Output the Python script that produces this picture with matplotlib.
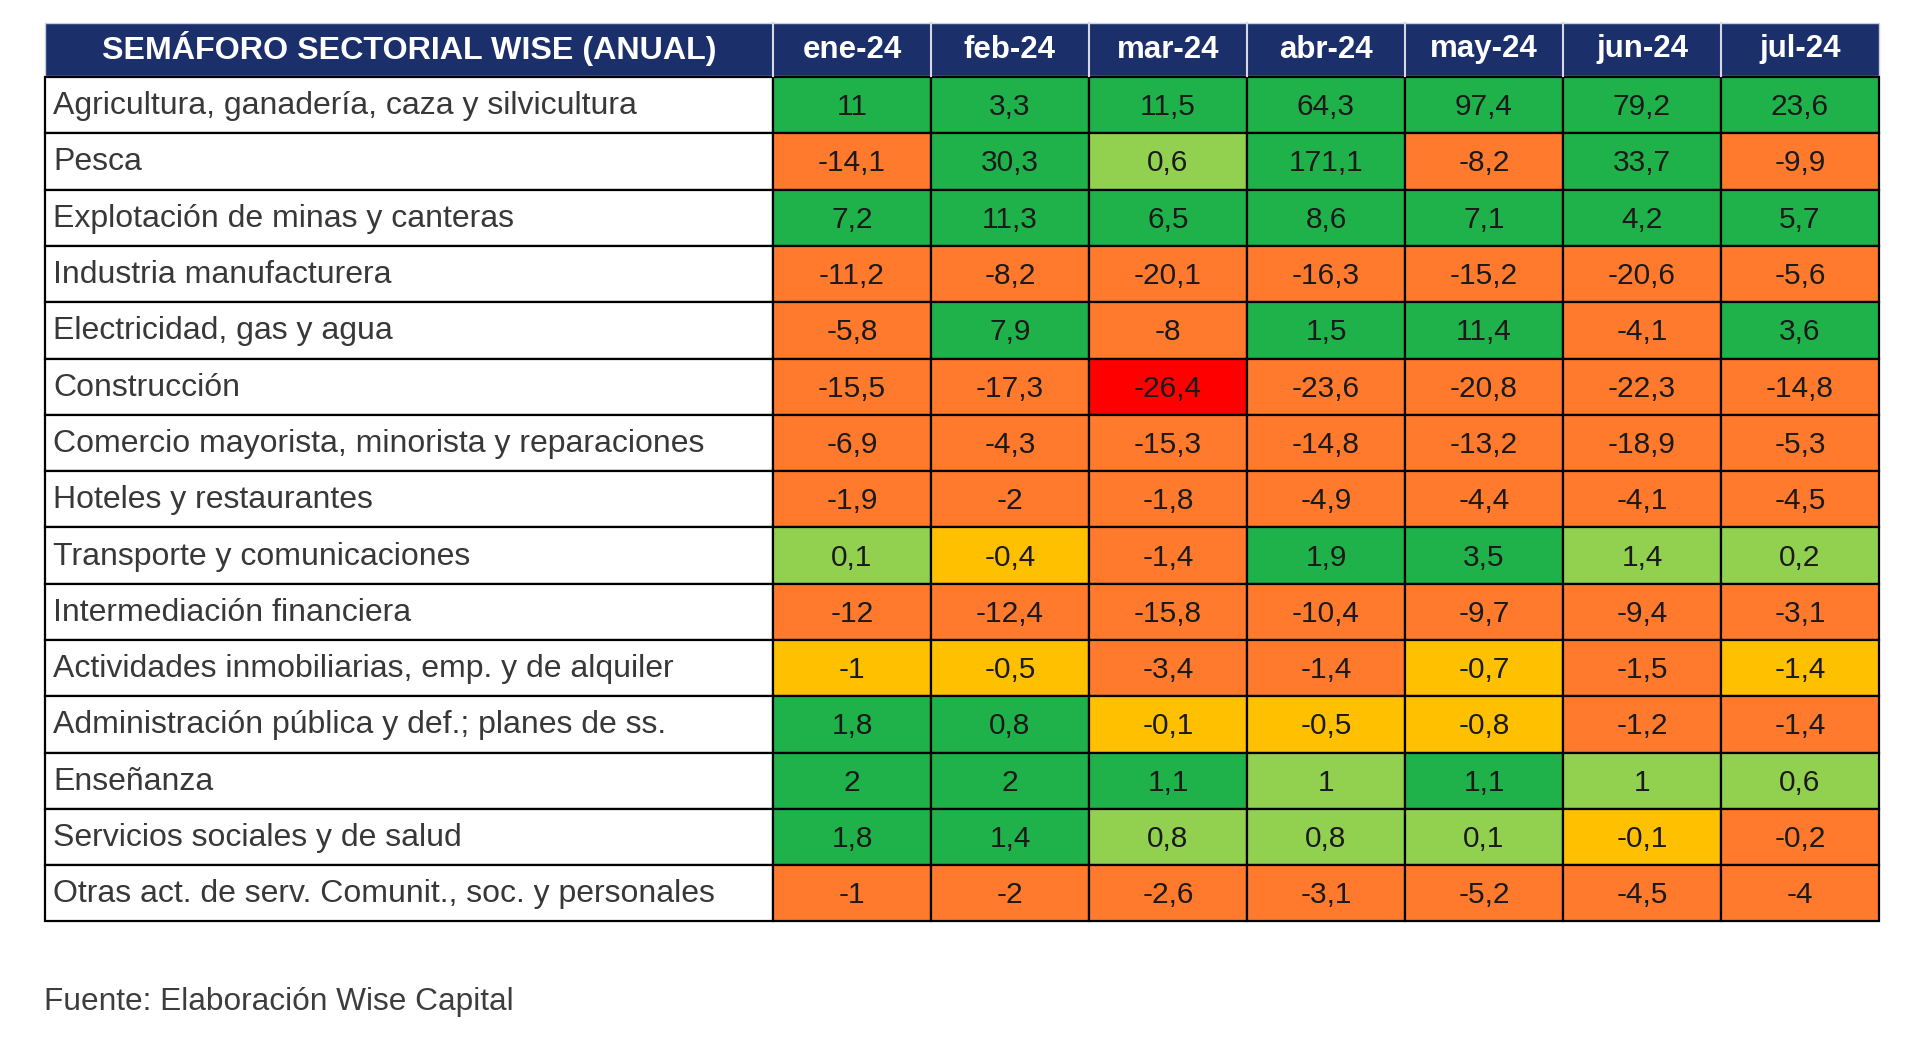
import matplotlib.pyplot as plt
from matplotlib.patches import Rectangle

plt.rcParams['font.family'] = ['Liberation Sans', 'DejaVu Sans']

title = 'SEMÁFORO SECTORIAL WISE (ANUAL)'
months = ['ene-24', 'feb-24', 'mar-24', 'abr-24', 'may-24', 'jun-24', 'jul-24']
sectors = [
    'Agricultura, ganadería, caza y silvicultura',
    'Pesca',
    'Explotación de minas y canteras',
    'Industria manufacturera',
    'Electricidad, gas y agua',
    'Construcción',
    'Comercio mayorista, minorista y reparaciones',
    'Hoteles y restaurantes',
    'Transporte y comunicaciones',
    'Intermediación financiera',
    'Actividades inmobiliarias, emp. y de alquiler',
    'Administración pública y def.; planes de ss.',
    'Enseñanza',
    'Servicios sociales y de salud',
    'Otras act. de serv. Comunit., soc. y personales',
]
values = [
    [11, 3.3, 11.5, 64.3, 97.4, 79.2, 23.6],
    [-14.1, 30.3, 0.6, 171.1, -8.2, 33.7, -9.9],
    [7.2, 11.3, 6.5, 8.6, 7.1, 4.2, 5.7],
    [-11.2, -8.2, -20.1, -16.3, -15.2, -20.6, -5.6],
    [-5.8, 7.9, -8, 1.5, 11.4, -4.1, 3.6],
    [-15.5, -17.3, -26.4, -23.6, -20.8, -22.3, -14.8],
    [-6.9, -4.3, -15.3, -14.8, -13.2, -18.9, -5.3],
    [-1.9, -2, -1.8, -4.9, -4.4, -4.1, -4.5],
    [0.1, -0.4, -1.4, 1.9, 3.5, 1.4, 0.2],
    [-12, -12.4, -15.8, -10.4, -9.7, -9.4, -3.1],
    [-1, -0.5, -3.4, -1.4, -0.7, -1.5, -1.4],
    [1.8, 0.8, -0.1, -0.5, -0.8, -1.2, -1.4],
    [2, 2, 1.1, 1, 1.1, 1, 0.6],
    [1.8, 1.4, 0.8, 0.8, 0.1, -0.1, -0.2],
    [-1, -2, -2.6, -3.1, -5.2, -4.5, -4],
]
# semaforo class of each cell (G dark green, L light green, Y yellow, O orange, R red)
levels = [
    'GGGGGGG',
    'OGLGOGO',
    'GGGGGGG',
    'OOOOOOO',
    'OGOGGOG',
    'OOROOOO',
    'OOOOOOO',
    'OOOOOOO',
    'LYOGGLL',
    'OOOOOOO',
    'YYOOYOY',
    'GGYYYOO',
    'GGGLGLL',
    'GGLLLYO',
    'OOOOOOO',
]
source = 'Fuente: Elaboración Wise Capital'

palette = {'G': '#1fb24b', 'L': '#92d050', 'Y': '#ffc000', 'O': '#ff7a2c', 'R': '#ff0000'}
navy = '#1b2f6b'

# layout in pixels
left, label_w, col_w = 45, 728, 158
head_top, head_h = 23, 53
row_top, row_h = 77, 56.3
right = left + label_w + col_w * len(months)

fig = plt.figure(figsize=(19.2, 10.43), dpi=100)
ax = fig.add_axes([0, 0, 1, 1])
ax.set_xlim(0, 1920)
ax.set_ylim(1043, 0)
ax.axis('off')

# header
ax.add_patch(Rectangle((left, head_top), right - left, head_h, facecolor=navy,
                       edgecolor='#c9cfdc', lw=1))
ax.text(left + label_w / 2, head_top + head_h / 2 - 1, title, color='white',
        fontsize=23.2, fontweight='bold', ha='center', va='center')
for j, m in enumerate(months):
    x0 = left + label_w + j * col_w
    ax.plot([x0, x0], [head_top, head_top + head_h], color='#d5dae6', lw=1.5)
    ax.text(x0 + col_w / 2, head_top + head_h / 2, m, color='white',
            fontsize=22.5, fontweight='bold', ha='center', va='center')

# body
for i, (name, vals, lev) in enumerate(zip(sectors, values, levels)):
    y0 = row_top + i * row_h
    ax.add_patch(Rectangle((left, y0), label_w, row_h, facecolor='white',
                           edgecolor='black', lw=1.6))
    ax.text(left + 8, y0 + row_h / 2 + 1, name, color='#383838', fontsize=23,
            ha='left', va='center')
    for j, (v, c) in enumerate(zip(vals, lev)):
        x0 = left + label_w + j * col_w
        ax.add_patch(Rectangle((x0, y0), col_w, row_h, facecolor=palette[c],
                               edgecolor='black', lw=1.6))
        ax.text(x0 + col_w / 2, y0 + row_h / 2 + 2, f'{v:g}'.replace('.', ','),
                color='#1a1a1a', fontsize=21.5, ha='center', va='center')

ax.text(left - 1, 1002, source, color='#3d3d3d', fontsize=22.8, ha='left', va='center')

fig.savefig('out.png', dpi=100, facecolor='white')
